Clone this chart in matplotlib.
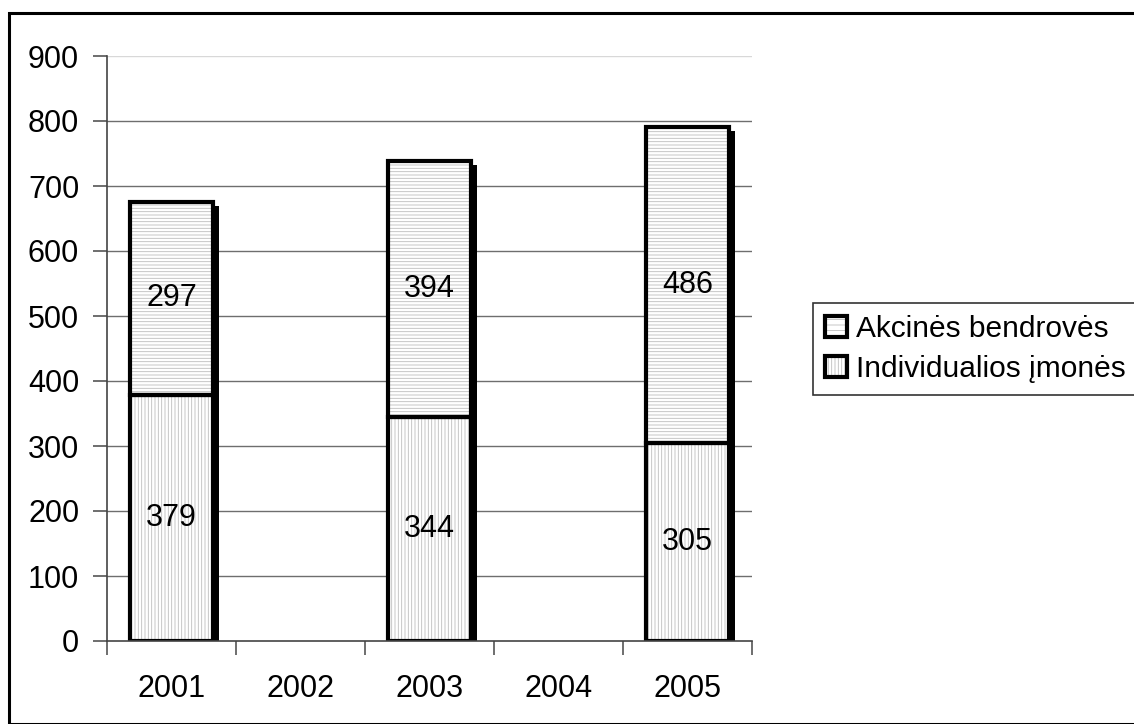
import numpy as np
import matplotlib
matplotlib.use("Agg")
import matplotlib.pyplot as plt
from matplotlib.patches import Rectangle
from matplotlib.transforms import ScaledTranslation
from matplotlib.legend_handler import HandlerBase

plt.rcParams["font.family"] = ["Liberation Sans", "DejaVu Sans"]
plt.rcParams["hatch.linewidth"] = 0.6

years = ["2001", "2002", "2003", "2004", "2005"]
individualios = [379, np.nan, 344, np.nan, 305]
akcines = [297, np.nan, 394, np.nan, 486]
series_names = ["Akcinės bendrovės", "Individualios įmonės"]
y_ticks = [0, 100, 200, 300, 400, 500, 600, 700, 800, 900]

W, H = 1134, 724
FS = 22
fig = plt.figure(figsize=(W / 100, H / 100), dpi=100)
ax = fig.add_axes([107 / W, 1 - 641 / H, (752 - 107) / W, (641 - 56) / H])

# outer chart frame
fig.patches.append(Rectangle((8.5 / W, 0), 2, 1 - 12.5 / H, transform=fig.transFigure,
                             fill=False, edgecolor="black", linewidth=2.2, zorder=0))

x = np.arange(len(years))
ind = np.array(individualios, dtype=float)
akc = np.array(akcines, dtype=float)
mask = ~np.isnan(ind)
xs, bi, ba = x[mask], ind[mask], akc[mask]
width = 0.65
hatch_gray = "#bdbdbd"

# drop shadow
shadow = ax.bar(xs, bi + ba, width=width, color="black", linewidth=0, zorder=2)
off = ScaledTranslation(6 / 100, -4 / 100, fig.dpi_scale_trans)
for p in shadow:
    p.set_transform(ax.transData + off)

# hatched fills
ax.bar(xs, bi, width=width, facecolor="white", edgecolor=hatch_gray, hatch="|||||",
       linewidth=0, zorder=3)
ax.bar(xs, ba, bottom=bi, width=width, facecolor="white", edgecolor=hatch_gray,
       hatch="-----", linewidth=0, zorder=3)
# outlines
ax.bar(xs, bi, width=width, facecolor="none", edgecolor="black", linewidth=3, zorder=4)
ax.bar(xs, ba, bottom=bi, width=width, facecolor="none", edgecolor="black",
       linewidth=3, zorder=4)

for xi, a, b in zip(xs, bi, ba):
    ax.text(xi, a / 2, f"{int(a)}", ha="center", va="center", fontsize=FS, zorder=5)
    ax.text(xi, a + b / 2, f"{int(b)}", ha="center", va="center", fontsize=FS, zorder=5)

ax.set_xlim(-0.5, len(years) - 0.5)
ax.set_ylim(0, 900)
ax.set_yticks(y_ticks)
ax.set_yticklabels([str(v) for v in y_ticks], fontsize=FS)
ax.set_xticks(x)
ax.set_xticklabels(years, fontsize=FS)
ax.set_xticks(np.arange(-0.5, len(years)), minor=True)
ax.tick_params(axis="x", which="major", length=0, pad=24)
ax.tick_params(axis="x", which="minor", length=10, width=1.2, color="#555555", direction="out")
ax.tick_params(axis="y", length=10, width=1.2, color="#555555", direction="out", pad=10)

for v in y_ticks[1:]:
    ax.axhline(v, color="#d8d8d8" if v == 900 else "#6e6e6e", linewidth=1.0, zorder=1)

for s in ["top", "right"]:
    ax.spines[s].set_visible(False)
ax.spines["left"].set_color("#444444")
ax.spines["left"].set_linewidth(1.2)
ax.spines["bottom"].set_color("#444444")
ax.spines["bottom"].set_linewidth(1.2)
ax.spines["bottom"].set_zorder(6)


class BoxHandler(HandlerBase):
    def __init__(self, hatch):
        super().__init__()
        self.hatch = hatch

    def create_artists(self, legend, orig_handle, xdescent, ydescent, width, height,
                       fontsize, trans):
        s = min(width, height)
        x0 = -xdescent + (width - s) / 2
        y0 = -ydescent + (height - s) / 2
        fillp = Rectangle((x0, y0), s, s, facecolor="white", edgecolor=hatch_gray,
                          hatch=self.hatch, linewidth=0, transform=trans)
        edge = Rectangle((x0, y0), s, s, facecolor="none", edgecolor="black",
                         linewidth=3, transform=trans)
        return [fillp, edge]


h1 = Rectangle((0, 0), 1, 1)
h2 = Rectangle((0, 0), 1, 1)
leg = fig.legend([h1, h2], series_names,
                 handler_map={h1: BoxHandler("---"), h2: BoxHandler("|||||")},
                 loc="upper left", bbox_to_anchor=(813 / W, 1 - 303 / H),
                 fontsize=21.5, frameon=True, fancybox=False, borderpad=0.4,
                 handlelength=0.75, handleheight=0.75, handletextpad=0.3,
                 labelspacing=0.4, borderaxespad=0)
leg.get_frame().set_edgecolor("black")
leg.get_frame().set_linewidth(1.2)

fig.savefig("out.png", dpi=100)
